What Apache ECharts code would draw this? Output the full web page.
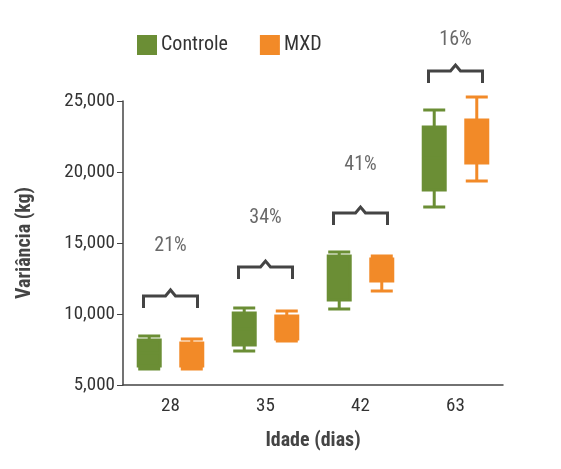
<!DOCTYPE html>
<html><head><meta charset="utf-8">
<script src="https://cdn.jsdelivr.net/npm/echarts@6/dist/echarts.min.js"></script>
<style>html,body{margin:0;background:#fff}#c{width:561px;height:469px}</style>
</head><body><div id="c"></div>
<script>
const ages = ['28', '35', '42', '63']
// [min, Q1, median, Q3, max]
const controle = [
  [6130, 6340, 7250, 8170, 8450],
  [7390, 7820, 8950, 10070, 10420],
  [10350, 10990, 12500, 14080, 14370],
  [17540, 18730, 21000, 23170, 24370]
]
const mxd = [
  [6130, 6340, 7150, 7960, 8240],
  [8100, 8240, 9050, 9860, 10210],
  [11620, 12320, 13100, 13870, 14080],
  [19370, 20630, 22100, 23660, 25280]
]
const bracketY = [11270, 13310, 17110, 27110]
const pctY = [14790, 16760, 20490, 29300]
const pctText = ['21%', '34%', '41%', '16%']

const font = "'Liberation Sans Narrow', 'Roboto Condensed', 'Liberation Sans', sans-serif"
const green = '#6b8e35'
const orange = '#f28a28'

const chart = echarts.init(document.getElementById('c'))
chart.setOption({
  animation: false,
  legend: {
    top: 30, left: 132, itemGap: 32, itemWidth: 18, itemHeight: 18,
    icon: 'rect',
    textStyle: { fontFamily: font, fontSize: 20, color: '#333' },
    data: ['Controle', 'MXD']
  },
  grid: { left: 123, right: 58, top: 101, bottom: 84 },
  xAxis: {
    type: 'category', data: ages,
    name: 'Idade (dias)', nameLocation: 'middle', nameGap: 46,
    nameTextStyle: { fontFamily: font, fontSize: 20, fontWeight: 'bold', color: '#444' },
    axisLine: { lineStyle: { color: '#444', width: 1.5 } },
    axisTick: { show: false },
    axisLabel: { fontFamily: font, fontSize: 19, color: '#333', margin: 12 }
  },
  yAxis: {
    type: 'value', min: 5000, max: 25000, interval: 5000,
    name: 'Variância (kg)', nameLocation: 'middle', nameGap: 88,
    nameTextStyle: { fontFamily: font, fontSize: 20, fontWeight: 'bold', color: '#444' },
    axisLine: { show: true, lineStyle: { color: '#444', width: 1.5 } },
    axisTick: { show: true, length: 6, lineStyle: { color: '#444' } },
    splitLine: { show: false },
    axisLabel: {
      fontFamily: font, fontSize: 19, color: '#333', margin: 8,
      formatter: v => v.toLocaleString('en-US')
    }
  },
  series: [
    {
      name: 'Controle', type: 'boxplot', data: controle, boxWidth: [22, 22],
      itemStyle: { color: green, borderColor: green, borderWidth: 3 }
    },
    {
      name: 'MXD', type: 'boxplot', data: mxd, boxWidth: [22, 22],
      itemStyle: { color: orange, borderColor: orange, borderWidth: 3 }
    },
    {
      type: 'custom', clip: false, silent: true,
      data: bracketY.map((y, i) => [i, y]),
      renderItem: function (params, api) {
        const p = api.coord([api.value(0), api.value(1)])
        const x = p[0], y = p[1], w = 27
        return {
          type: 'polyline',
          shape: { points: [[x - w, y + 12], [x - w, y], [x - 5, y], [x, y - 6], [x + 5, y], [x + w, y], [x + w, y + 12]] },
          style: { stroke: '#444', lineWidth: 3, fill: null }
        }
      }
    },
    {
      type: 'scatter', symbolSize: 0, silent: true, clip: false,
      data: pctY.map((y, i) => [i, y]),
      label: {
        show: true, position: 'inside',
        formatter: p => pctText[p.dataIndex],
        fontFamily: font, fontSize: 20, color: '#444'
      }
    }
  ]
})
</script></body></html>
